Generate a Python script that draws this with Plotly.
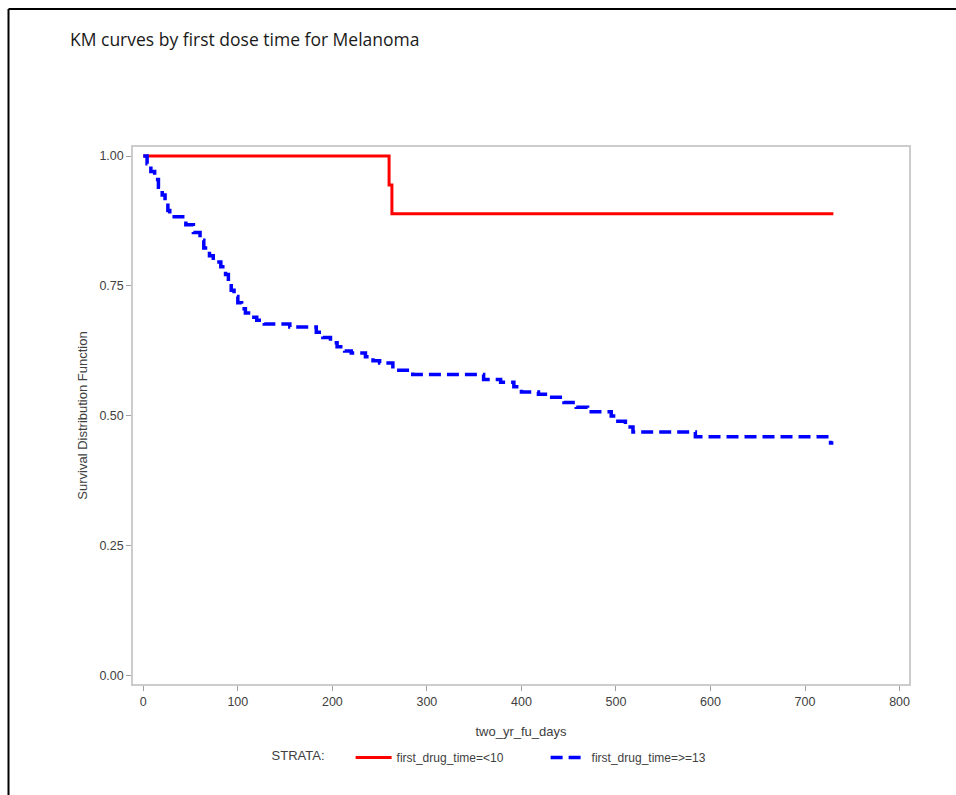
import plotly.graph_objects as go

# Kaplan-Meier step estimates (days, survival after event)
early_times = [0, 260, 263, 730]
early_surv = [1.000, 0.944, 0.889, 0.889]

late_times = [0, 4, 8, 12, 16, 20, 23, 26, 28, 45, 53, 60, 64, 70, 74, 82,
              87, 90, 93, 96, 100, 104, 108, 114, 120, 128, 155, 183, 190,
              198, 205, 213, 220, 235, 243, 250, 264, 285, 360, 378, 392,
              400, 418, 432, 445, 458, 470, 495, 502, 510, 518, 584, 727, 730]
late_surv = [1.000, 0.985, 0.970, 0.955, 0.940, 0.925, 0.910, 0.895, 0.883,
             0.868, 0.853, 0.838, 0.823, 0.808, 0.796, 0.787, 0.772, 0.757,
             0.742, 0.730, 0.718, 0.706, 0.698, 0.690, 0.684, 0.677, 0.671,
             0.661, 0.651, 0.641, 0.633, 0.625, 0.621, 0.614, 0.606, 0.602,
             0.588, 0.580, 0.570, 0.565, 0.556, 0.546, 0.542, 0.536, 0.526,
             0.517, 0.508, 0.500, 0.490, 0.479, 0.469, 0.460, 0.448, 0.448]

strata_names = ["first_drug_time=<10", "first_drug_time=>=13"]

x_ticks = [0, 100, 200, 300, 400, 500, 600, 700, 800]
y_ticks = [0.0, 0.25, 0.5, 0.75, 1.0]

fig = go.Figure()
fig.add_trace(go.Scatter(
    x=early_times, y=early_surv, mode="lines", line_shape="hv",
    name=strata_names[0],
    line=dict(color="#ff0000", width=3),
))
fig.add_trace(go.Scatter(
    x=late_times, y=late_surv, mode="lines", line_shape="hv",
    name=strata_names[1],
    line=dict(color="#0000ff", width=3.5, dash="12px,6px"),
))

font_family = "Liberation Sans, Arial, sans-serif"
tick_font = dict(family=font_family, size=12.5, color="#404040")
label_font = dict(family=font_family, size=13, color="#404040")

fig.update_layout(
    width=956, height=795,
    margin=dict(l=133, r=47, t=147, b=111),
    paper_bgcolor="white", plot_bgcolor="white",
    title=dict(
        text="KM curves by first dose time for Melanoma",
        x=70 / 956, xanchor="left", y=1 - 40 / 795, yanchor="middle",
        font=dict(family="Open Sans, sans-serif", size=17.5, color="#1a1a1a"),
    ),
    xaxis=dict(
        range=[-10.9, 810], tickvals=x_ticks, ticktext=[str(v) for v in x_ticks],
        showgrid=False, zeroline=False, showline=True, mirror=True,
        linecolor="#cccccc", linewidth=1.5, ticks="outside", ticklen=5,
        tickcolor="#a0a0a0", tickfont=tick_font,
        title=dict(text="two_yr_fu_days", font=label_font, standoff=19),
    ),
    yaxis=dict(
        range=[-0.0154, 1.0173], tickvals=y_ticks,
        ticktext=[f"{v:.2f}" for v in y_ticks],
        showgrid=False, zeroline=False, showline=True, mirror=True,
        linecolor="#cccccc", linewidth=1.5, ticks="outside", ticklen=5,
        tickcolor="#a0a0a0", tickfont=tick_font,
        title=dict(text="Survival Distribution Function", font=label_font, standoff=9),
    ),
    legend=dict(
        orientation="h", x=0.176, xanchor="left", y=-0.137, yanchor="middle",
        title=dict(text="STRATA:     ", font=label_font),
        font=dict(family=font_family, size=12, color="#404040"),
        itemwidth=36, tracegroupgap=0,
        entrywidth=144, entrywidthmode="pixels",
        bgcolor="rgba(0,0,0,0)",
    ),
    shapes=[
        dict(type="line", xref="paper", yref="paper",
             x0=(8.5 - 133) / 776, x1=(956 - 133) / 776,
             y0=(684 - 9) / 537, y1=(684 - 9) / 537,
             line=dict(color="black", width=2)),
        dict(type="line", xref="paper", yref="paper",
             x0=(8.5 - 133) / 776, x1=(8.5 - 133) / 776,
             y0=(684 - 9) / 537, y1=(684 - 795) / 537,
             line=dict(color="black", width=2)),
    ],
)

fig.write_html("out.html")
